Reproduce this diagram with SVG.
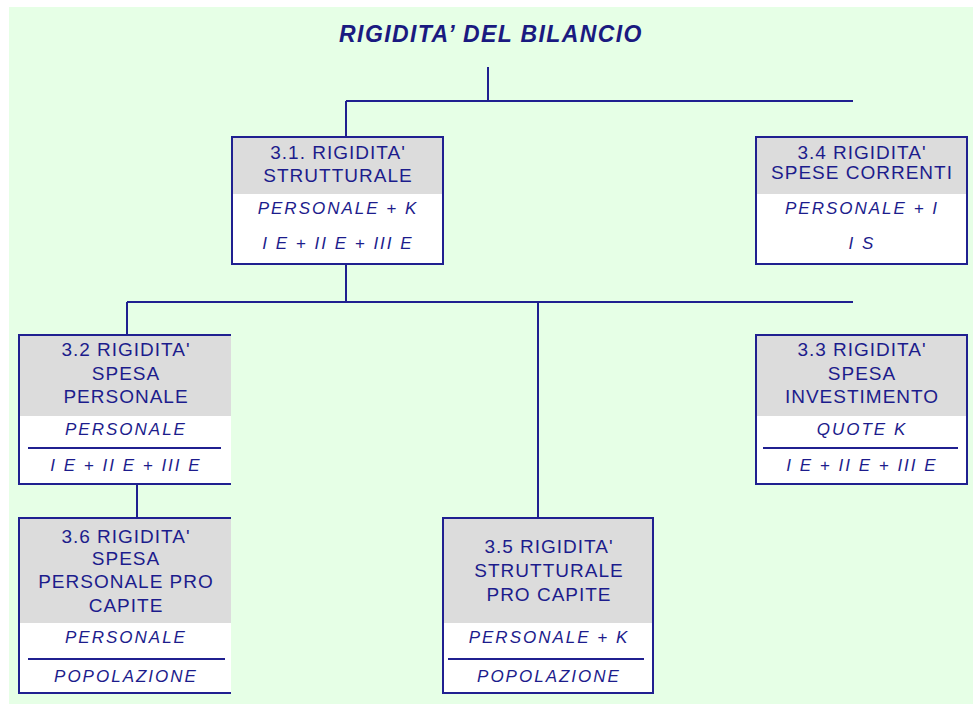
<svg xmlns="http://www.w3.org/2000/svg" width="973" height="704" viewBox="0 0 973 704">
<style>
.bg{fill:#e6ffe6}
.hdr{fill:#dcdcdc}
.body{fill:#ffffff}
.bd{fill:none;stroke:#202090;stroke-width:2}
.ln{fill:none;stroke:#202090;stroke-width:2}
.t{font-family:"Liberation Sans",Arial,sans-serif;font-size:19px;fill:#1c1c8c;text-anchor:middle;letter-spacing:1px}
.f{font-family:"Liberation Sans",Arial,sans-serif;font-size:17px;font-style:italic;fill:#1c1c8c;text-anchor:middle;letter-spacing:2px}
.title{font-family:"Liberation Sans",Arial,sans-serif;font-size:23px;font-weight:bold;font-style:italic;fill:#1a1a80;text-anchor:middle;letter-spacing:1.4px}
</style>
<rect class="bg" x="9" y="7" width="964" height="697"/>
<text class="title" x="491" y="42">RIGIDITA’ DEL BILANCIO</text>
<g id="connectors">
<path class="ln" d="M488 67V101M346 101H853M346 101V137M346 264V302M127 302H853M127 302V335M538 302V518M137 484V518"/>
</g>
<g id="n31">
<rect class="hdr" x="232" y="137" width="211" height="57"/>
<rect class="body" x="232" y="194" width="211" height="70"/>
<rect class="bd" x="232" y="137" width="211" height="127"/>
<text class="t" x="338" y="159">3.1. RIGIDITA'</text>
<text class="t" x="338" y="182">STRUTTURALE</text>
<text class="f" x="338" y="214">PERSONALE + K</text>
<text class="f" x="338" y="249">I E + II E + III E</text>
</g>
<g id="n34">
<rect class="hdr" x="756" y="137" width="211" height="57"/>
<rect class="body" x="756" y="194" width="211" height="70"/>
<rect class="bd" x="756" y="137" width="211" height="127"/>
<text class="t" x="862" y="159">3.4 RIGIDITA'</text>
<text class="t" x="862" y="179">SPESE CORRENTI</text>
<text class="f" x="862" y="214">PERSONALE + I</text>
<text class="f" x="862" y="249">I S</text>
</g>
<g id="n32">
<rect class="hdr" x="19" y="335" width="212" height="81"/>
<rect class="body" x="19" y="416" width="212" height="68"/>
<path class="bd" d="M231 335H19V484H231"/>
<text class="t" x="126" y="356">3.2 RIGIDITA'</text>
<text class="t" x="126" y="380">SPESA</text>
<text class="t" x="126" y="403">PERSONALE</text>
<text class="f" x="126" y="435">PERSONALE</text>
<path class="ln" d="M28 448H221"/>
<text class="f" x="126" y="471">I E + II E + III E</text>
</g>
<g id="n33">
<rect class="hdr" x="756" y="335" width="211" height="81"/>
<rect class="body" x="756" y="416" width="211" height="68"/>
<rect class="bd" x="756" y="335" width="211" height="149"/>
<text class="t" x="862" y="356">3.3 RIGIDITA'</text>
<text class="t" x="862" y="380">SPESA</text>
<text class="t" x="862" y="403">INVESTIMENTO</text>
<text class="f" x="862" y="435">QUOTE K</text>
<path class="ln" d="M763 448H958"/>
<text class="f" x="862" y="471">I E + II E + III E</text>
</g>
<g id="n36">
<rect class="hdr" x="19" y="518" width="212" height="105"/>
<rect class="body" x="19" y="623" width="212" height="70"/>
<path class="bd" d="M231 518H19V693H231"/>
<text class="t" x="126" y="543">3.6 RIGIDITA'</text>
<text class="t" x="126" y="565">SPESA</text>
<text class="t" x="126" y="588">PERSONALE PRO</text>
<text class="t" x="126" y="612">CAPITE</text>
<text class="f" x="126" y="643">PERSONALE</text>
<path class="ln" d="M28 659H225"/>
<text class="f" x="126" y="682">POPOLAZIONE</text>
</g>
<g id="n35">
<rect class="hdr" x="443" y="518" width="210" height="105"/>
<rect class="body" x="443" y="623" width="210" height="70"/>
<rect class="bd" x="443" y="518" width="210" height="175"/>
<text class="t" x="549" y="553">3.5 RIGIDITA'</text>
<text class="t" x="549" y="577">STRUTTURALE</text>
<text class="t" x="549" y="601">PRO CAPITE</text>
<text class="f" x="549" y="643">PERSONALE + K</text>
<path class="ln" d="M448 659H644"/>
<text class="f" x="549" y="682">POPOLAZIONE</text>
</g>
</svg>
